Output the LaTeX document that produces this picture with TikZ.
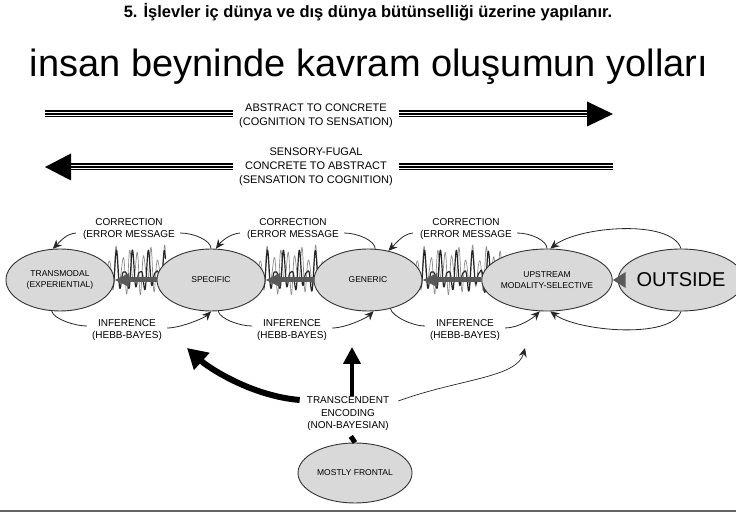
\documentclass[tikz,border=0pt]{standalone}
\usepackage{fontspec}
\setmainfont{Liberation Sans}
\usetikzlibrary{arrows.meta,positioning,shapes.geometric,calc,backgrounds}

\begin{document}
\begin{tikzpicture}[x=1pt, y=-1pt,
    stage/.style={draw=black!80, ellipse, fill=black!15, line width=0.9pt, minimum width=108pt, minimum height=62pt, inner sep=0pt, font=\fontsize{8.5}{11}\selectfont, align=center},
    lbl/.style={font=\fontsize{10}{12}\selectfont, align=center, inner sep=1pt},
    thinline/.style={black!85, line width=0.8pt},
    barr/.style={thinline, -{Stealth[length=9pt,width=8pt]}},
    signal/.style={line width=5pt, black!65, -{Triangle[length=15pt,width=13pt]}},
    wave/.style={line width=1.2pt, black!85, line join=round},
    wavegray/.style={line width=0.7pt, black!45, line join=round},
    stripes/.style={line width=7pt, postaction={draw=white, line width=4.4pt}, postaction={draw=black, line width=1.5pt}},
    fat/.style={line width=6pt, -{Triangle[length=20pt,width=22pt]}},
]
\useasboundingbox (0,0) rectangle (736,518);

% Titles
\node[anchor=base, font=\bfseries\fontsize{16.5}{18}\selectfont] (head) at (368,18) {5. İşlevler iç dünya ve dış dünya bütünselliği üzerine yapılanır.};
\node[anchor=base, font=\fontsize{38}{42}\selectfont] (title) at (369,77) {insan beyninde kavram oluşumun yolları};

% Direction arrows
\node[lbl, font=\fontsize{11}{14}\selectfont, inner xsep=6pt] (a2c) at (316,116) {ABSTRACT TO CONCRETE\\(COGNITION TO SENSATION)};
\node[lbl, font=\fontsize{11}{14}\selectfont, inner xsep=6pt] (c2a) at (316,167) {SENSORY-FUGAL\\CONCRETE TO ABSTRACT\\(SENSATION TO COGNITION)};
\coordinate (a2cL) at (45,114);
\coordinate (a2cR) at (613,114);
\coordinate (c2aL) at (45,167);
\coordinate (c2aR) at (613,167);

\draw[stripes] (a2cL) -- (a2cL -| a2c.west);
\draw[stripes] (a2cL -| a2c.east) -- ([xshift=-24]a2cR);
\fill (a2cR) -- ++(-26,-12.5) -- ++(0,25) -- cycle;
\draw[stripes] ([xshift=24]c2aL) -- (c2aL -| c2a.west);
\draw[stripes] (c2aL -| c2a.east) -- (c2aR);
\fill (c2aL) -- ++(26,-13.5) -- ++(0,27) -- cycle;

% Stages
\node[stage] (transmodal) at (60,280) {TRANSMODAL\\(EXPERIENTIAL)};
\node[stage] (specific) at (211,280) {SPECIFIC};
\node[stage] (generic) at (368,280) {GENERIC};
\node[stage] (upstream) at (547,280) {UPSTREAM\\MODALITY-SELECTIVE};
\node[stage, minimum width=106pt, font=\fontsize{20}{22}\selectfont] (outside) at (681,280) {OUTSIDE};
\node[stage, minimum width=114pt, minimum height=60pt] (frontal) at (355,473) {MOSTLY FRONTAL};

% Spiking signals between stages
\begin{scope}[on background layer]
\foreach \a/\gap in {transmodal/43, specific/49, generic/71}{
  \pgfmathsetmacro\wend{\gap+8}
  \begin{scope}[shift={(\a.east)}]
    \draw[wavegray] plot[domain=-8:\wend, samples=240] (\x, {-10-(17+8*sin(29*\x+70))*sin(52*\x)});
    \draw[wave] plot[domain=-8:\wend, samples=240] (\x, {-6-(13+11*sin(23*\x+40))*sin(45*\x)});
  \end{scope}
}
\end{scope}
\draw[signal] (specific.west) -- (transmodal.east);
\draw[signal] (generic.west) -- (specific.east);
\draw[signal] (upstream.west) -- (generic.east);
\draw[signal, -{Triangle[length=13pt,width=15pt]}] (outside.west) -- (upstream.east);

% Correction / inference labels
\node[lbl] (cor1) at (129,229) {CORRECTION\\(ERROR MESSAGE};
\node[lbl] (cor2) at (293,229) {CORRECTION\\(ERROR MESSAGE};
\node[lbl] (cor3) at (466,229) {CORRECTION\\(ERROR MESSAGE};
\node[lbl] (inf1) at (127,330) {INFERENCE\\(HEBB-BAYES)};
\node[lbl] (inf2) at (292,330) {INFERENCE\\(HEBB-BAYES)};
\node[lbl] (inf3) at (465,330) {INFERENCE\\(HEBB-BAYES)};

\draw[barr] ([shift={(-6,4)}]cor1.west) .. controls +(-10,1) and +(8,-8) .. (transmodal.103);
\draw[thinline] ([shift={(4,4)}]cor1.east) .. controls +(14,0) and +(0,-8) .. (specific.north);
\draw[barr] ([shift={(-6,4)}]cor2.west) .. controls +(-10,1) and +(6,-8) .. (specific.81);
\draw[thinline] ([shift={(4,4)}]cor2.east) .. controls +(14,0) and +(0,-8) .. (generic.77);
\draw[barr] ([shift={(-6,4)}]cor3.west) .. controls +(-10,1) and +(8,-8) .. (generic.55);
\draw[thinline] ([shift={(4,4)}]cor3.east) .. controls +(14,0) and +(0,-8) .. (upstream.north);

\draw[thinline] (transmodal.255) .. controls +(2,8) and +(-12,0) .. ([shift={(-4,-4)}]inf1.west);
\draw[barr] ([shift={(4,-2)}]inf1.east) .. controls +(14,0) and +(-6,6) .. (specific.south);
\draw[thinline] (specific.283) .. controls +(2,8) and +(-12,0) .. ([shift={(-4,-4)}]inf2.west);
\draw[barr] ([shift={(4,-2)}]inf2.east) .. controls +(14,0) and +(-6,6) .. (generic.280);
\draw[thinline] (generic.308) .. controls +(2,8) and +(-12,0) .. ([shift={(-4,-4)}]inf3.west);
\draw[barr] ([shift={(4,-2)}]inf3.east) .. controls +(14,0) and +(-6,6) .. (upstream.257);

% Loops from outside
\draw[barr] (outside.north) .. controls +(-10,-30) and +(28,-22) .. (upstream.84);
\draw[barr] (outside.south) .. controls +(-10,28) and +(28,20) .. (upstream.276);

% Transcendent encoding
\node[lbl, font=\fontsize{10}{12.5}\selectfont] (enc) at (348,414) {TRANSCENDENT\\ENCODING\\(NON-BAYESIAN)};
\coordinate (tipS) at (187,348);
\coordinate (tipG) at (352,347);
\coordinate (tipU) at (525,348);

\draw[fat] ([shift={(-6,-14)}]enc.west) .. controls +(-48,-4) and +(22,20) .. (tipS);
\draw[line width=4pt, -{Triangle[length=17pt,width=17pt]}] ([xshift=4]enc.north) -- (tipG);
\draw[barr, line width=0.7pt] ([shift={(8,-13)}]enc.east) .. controls +(60,-22) and +(-8,30) .. (tipU);
\draw[line width=5pt, shorten <=5pt] (enc.south) -- (frontal.north);

% Rule
\draw[black!60, line width=2.5pt] (0,511) -- (736,511);
\end{tikzpicture}
\end{document}
